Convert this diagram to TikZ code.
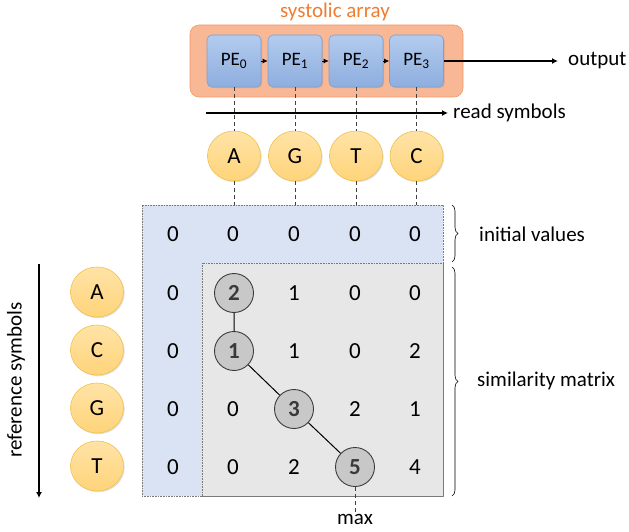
\documentclass[tikz,border=0pt]{standalone}
\usepackage{fontspec}
\setmainfont{Carlito}
\usetikzlibrary{arrows.meta,shadows,decorations.pathreplacing,shapes.geometric}

\definecolor{arrayfill}{HTML}{F8B795}
\definecolor{arrayedge}{HTML}{F09A6A}
\definecolor{arraytext}{HTML}{ED7D31}
\definecolor{petop}{HTML}{B3CBEE}
\definecolor{pebot}{HTML}{8EAEDF}
\definecolor{peedge}{HTML}{7F9FCF}
\definecolor{symtop}{HTML}{FFE3A6}
\definecolor{symbot}{HTML}{FFD47A}
\definecolor{symedge}{HTML}{F2C14E}
\definecolor{initfill}{HTML}{DAE3F3}
\definecolor{simfill}{HTML}{E7E7E7}
\definecolor{gridedge}{HTML}{7A7A7A}
\definecolor{hitfill}{HTML}{C8C8C8}
\definecolor{hitedge}{HTML}{3C3C3C}
\definecolor{hittext}{HTML}{3A3A3A}

\begin{document}
\begin{tikzpicture}[x=1pt,y=-1pt,
  lbl/.style={font=\fontsize{21}{24}\selectfont, inner sep=0pt},
  pebox/.style={rectangle, rounded corners=5pt, minimum width=54pt, minimum height=52pt,
    top color=petop, bottom color=pebot, draw=peedge, line width=0.6pt,
    drop shadow={shadow xshift=1.2pt, shadow yshift=-1.2pt, opacity=0.25},
    font=\fontsize{19}{22}\selectfont},
  sym/.style={ellipse, minimum width=53pt, minimum height=50pt, inner sep=0pt,
    top color=symtop, bottom color=symbot, draw=symedge, line width=0.6pt,
    drop shadow={shadow xshift=1.2pt, shadow yshift=-1.2pt, opacity=0.25},
    font=\fontsize{23}{26}\selectfont},
  num/.style={font=\fontsize{23}{26}\selectfont, inner sep=0pt},
  hit/.style={circle, minimum size=39pt, inner sep=0pt, fill=hitfill, draw=hitedge,
    line width=0.9pt, text=hittext, font=\bfseries\fontsize{23}{26}\selectfont},
  guide/.style={dashed, dash pattern=on 4pt off 3pt, line width=0.6pt, black!75},
  flow/.style={-{Latex[length=6pt,width=6pt]}, line width=1.5pt},
  brk/.style={decorate, decoration={brace, amplitude=6pt}, line width=0.6pt},
]
\useasboundingbox (0,0) rectangle (629,532);

% systolic array frame
\node[lbl, text=arraytext] (title) at (335,12) {systolic array};
\node[rectangle, rounded corners=9pt, minimum width=273pt, minimum height=72pt,
  fill=arrayfill, draw=arrayedge, line width=0.6pt] (frame) at (326.5,61) {};

% processing elements
\node[pebox] (pe0) at (234,61) {PE\textsubscript{0}};
\node[pebox] (pe1) at (295,61) {PE\textsubscript{1}};
\node[pebox] (pe2) at (356,61) {PE\textsubscript{2}};
\node[pebox] (pe3) at (416.5,61) {PE\textsubscript{3}};
\foreach \a/\b in {pe0/pe1, pe1/pe2, pe2/pe3}
  \draw[-{Latex[length=5pt,width=5pt]}, line width=0.8pt] (\a) -- (\b);

% output
\coordinate (outend) at (558,61);
\node[lbl, anchor=west] (outlbl) at (568,61) {output};
\draw[flow] (pe3) -- (outend);

% read direction
\coordinate (readstart) at (206,113);
\node[lbl, anchor=west] (readlbl) at (453,113) {read symbols};
\draw[flow, shorten >=5pt] (readstart) -- (readlbl.west);

% similarity matrix regions
\node[rectangle, minimum width=301pt, minimum height=291pt, fill=initfill,
  draw=gridedge, densely dotted, line width=0.6pt] (initreg) at (292.5,350.5) {};
\node[rectangle, minimum width=241pt, minimum height=233pt, fill=simfill,
  draw=gridedge, densely dotted, line width=0.6pt] (simreg) at (322.5,379.5) {};

% column guides from each PE down to the matrix
\foreach \i/\x in {0/234, 1/295, 2/356, 3/416.5}
  \coordinate (col\i) at (\x,205);
\node[sym] (ra) at (234,156) {A};
\node[sym] (rg) at (295,156) {G};
\node[sym] (rt) at (356,156) {T};
\node[sym] (rc) at (416.5,156) {C};
\draw[guide] (pe0) -- (ra);  \draw[guide] (ra) -- (col0);
\draw[guide] (pe1) -- (rg);  \draw[guide] (rg) -- (col1);
\draw[guide] (pe2) -- (rt);  \draw[guide] (rt) -- (col2);
\draw[guide] (pe3) -- (rc);  \draw[guide] (rc) -- (col3);

% reference symbols
\node[sym] (qa) at (97,292) {A};
\node[sym] (qc) at (97,350) {C};
\node[sym] (qg) at (97,408) {G};
\node[sym] (qt) at (97,466) {T};
\coordinate (refstart) at (39,264);
\coordinate (refend) at (39,498);
\draw[flow] (refstart) -- (refend);
\node[lbl, rotate=90] (reflbl) at (16,380) {reference symbols};

% matrix values
\node[num] (m00) at (173,234) {0};
\node[num] (m01) at (233,234) {0};
\node[num] (m02) at (294,234) {0};
\node[num] (m03) at (355,234) {0};
\node[num] (m04) at (415,234) {0};
\node[num] (m10) at (173,293) {0};
\node[hit] (m11) at (234,293) {2};
\node[num] (m12) at (294,293) {1};
\node[num] (m13) at (355,293) {0};
\node[num] (m14) at (415,293) {0};
\node[num] (m20) at (173,351) {0};
\node[hit] (m21) at (234,351) {1};
\node[num] (m22) at (294,351) {1};
\node[num] (m23) at (355,351) {0};
\node[num] (m24) at (415,351) {2};
\node[num] (m30) at (173,409) {0};
\node[num] (m31) at (233,409) {0};
\node[hit] (m32) at (294,409) {3};
\node[num] (m33) at (355,409) {2};
\node[num] (m34) at (415,409) {1};
\node[num] (m40) at (173,467) {0};
\node[num] (m41) at (233,467) {0};
\node[num] (m42) at (294,467) {2};
\node[hit] (m43) at (355,467) {5};
\node[num] (m44) at (415,467) {4};

% traceback path
\draw[line width=1pt] (m11) -- (m21) -- (m32) -- (m43);

% maximum marker
\node[lbl] (maxlbl) at (355,519) {max};
\draw[guide] (m43) -- (maxlbl);

% region braces
\coordinate (ib1) at (452,205);
\coordinate (ib2) at (452,262);
\coordinate (sb1) at (452,267);
\coordinate (sb2) at (452,496);
\draw[brk] (ib1) -- (ib2);
\draw[brk] (sb1) -- (sb2);
\node[lbl, anchor=west] (initlbl) at (479,234) {initial values};
\node[lbl, anchor=west] (simlbl) at (477,381) {similarity matrix};
\end{tikzpicture}
\end{document}
